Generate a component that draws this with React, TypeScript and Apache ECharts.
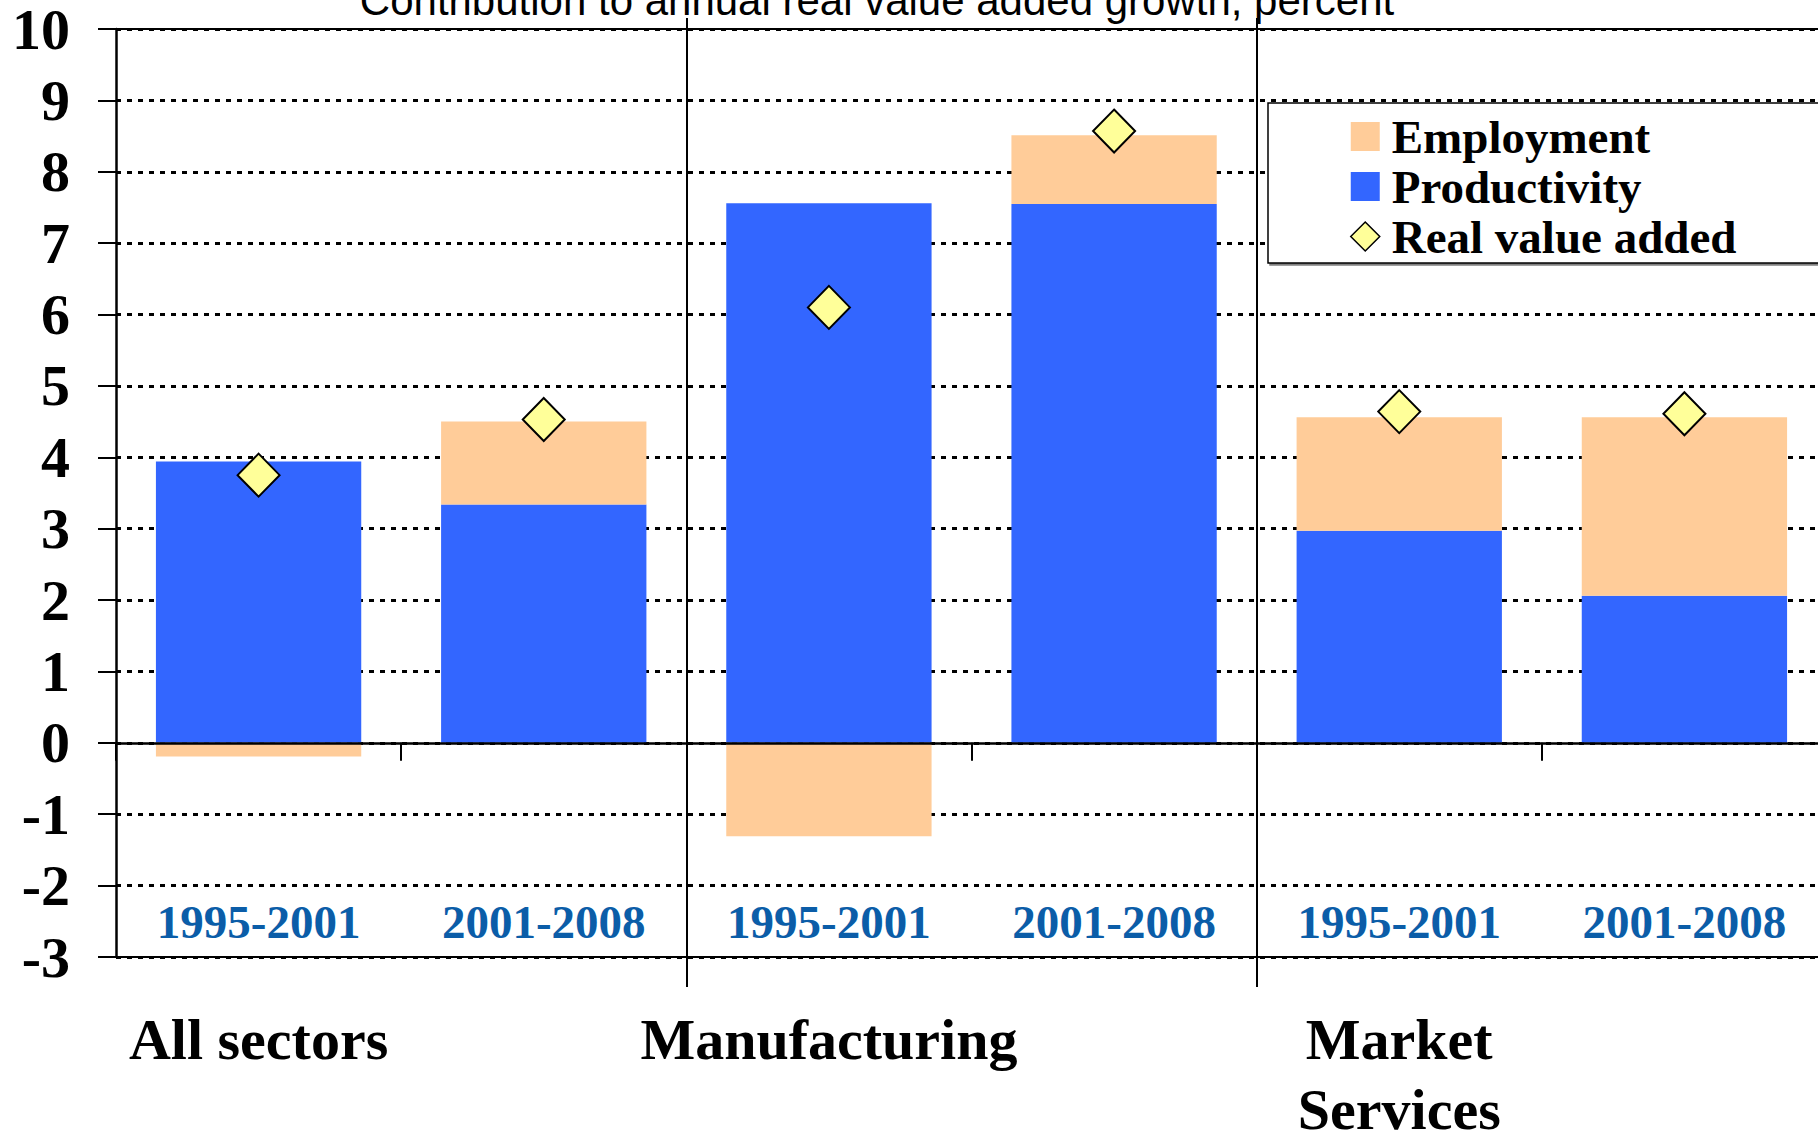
import React, { useEffect, useRef } from "react";
import * as echarts from "echarts";

const periods = ["1995-2001", "2001-2008", "1995-2001", "2001-2008", "1995-2001", "2001-2008"];
const groupLabels = ["All sectors", "", "Manufacturing", "", "Market\nServices", ""];
const groups = ["All sectors", "Manufacturing", "Market Services"];
const productivity = [3.94, 3.34, 7.56, 7.55, 2.97, 2.06];
const employment = [-0.19, 1.16, -1.31, 0.96, 1.59, 2.5];
const realValueAdded = [3.75, 4.53, 6.1, 8.57, 4.64, 4.61];
const titleText = "Contribution to annual real value added growth, percent";

const SERIF = "'Liberation Serif', 'Times New Roman', serif";
const SANS = "'Liberation Sans', Arial, sans-serif";

export default function App() {
  const ref = useRef<HTMLDivElement>(null);
  useEffect(() => {
    document.body.style.margin = "0";
    const chart = echarts.init(ref.current!, null, { renderer: "svg" });
    const skipFirst = (i: number) => i !== 0;
    chart.setOption({
      animation: false,
      backgroundColor: "#ffffff",
      grid: {
        left: 116,
        right: -9,
        top: 29,
        bottom: 178,
        containLabel: false,
        outerBoundsMode: "none",
      },
      graphic: [
        {
          type: "text",
          x: 877,
          y: 0,
          style: {
            text: titleText,
            font: `42px ${SANS}`,
            fill: "#000",
            align: "center",
            verticalAlign: "middle",
          },
        },
      ],
      legend: {
        orient: "vertical",
        left: 1268,
        top: 103,
        padding: [10, 200, 3, 82],
        itemWidth: 29,
        itemHeight: 29,
        itemGap: 3,
        backgroundColor: "#ffffff",
        borderColor: "#000",
        borderWidth: 1.5,
        shadowColor: "rgba(0,0,0,0.5)",
        shadowOffsetX: 2,
        shadowOffsetY: 2,
        shadowBlur: 0,
        selectedMode: false,
        textStyle: {
          fontFamily: SERIF,
          fontWeight: "bold",
          fontSize: 47,
          color: "#000",
          padding: [0, 0, 0, 7],
        },
        data: [
          { name: "Employment", icon: "rect" },
          { name: "Productivity", icon: "rect" },
          {
            name: "Real value added",
            icon: "diamond",
            itemStyle: { color: "#FFFF99", borderColor: "#000", borderWidth: 1.5 },
          },
        ],
      },
      xAxis: [
        {
          type: "category",
          data: periods,
          position: "bottom",
          z: 5,
          axisLine: { show: true, onZero: true, lineStyle: { color: "#000", width: 2.5 } },
          axisTick: { show: true, length: 18, interval: 0, lineStyle: { color: "#000", width: 2 } },
          axisLabel: { show: false },
          splitLine: { show: false },
        },
        {
          type: "category",
          data: periods,
          position: "bottom",
          z: 5,
          axisLine: { show: true, onZero: false, lineStyle: { color: "#000", width: 2 } },
          axisTick: { show: false },
          axisLabel: {
            show: true,
            inside: true,
            interval: 0,
            margin: 12,
            color: "#0B5DA8",
            fontFamily: SERIF,
            fontWeight: "bold",
            fontSize: 47,
            lineHeight: 47,
          },
          splitLine: { show: false },
        },
        {
          type: "category",
          data: groupLabels,
          position: "bottom",
          axisLine: { show: false, onZero: false },
          axisTick: { show: false },
          axisLabel: {
            show: true,
            interval: 0,
            margin: 47,
            color: "#000",
            fontFamily: SERIF,
            fontWeight: "bold",
            fontSize: 58,
            lineHeight: 70,
          },
          splitLine: { show: false },
        },
        {
          type: "category",
          data: groups,
          position: "bottom",
          z: 5,
          axisLine: { show: false, onZero: false },
          axisTick: { show: true, length: 30, interval: skipFirst, lineStyle: { color: "#000", width: 2 } },
          axisLabel: { show: false },
          splitLine: { show: true, interval: skipFirst, lineStyle: { color: "#000", width: 2, type: "solid" } },
        },
        {
          type: "category",
          data: groups,
          position: "top",
          z: 5,
          axisLine: { show: true, onZero: false, lineStyle: { color: "#000", width: 2 } },
          axisTick: { show: true, length: 11, interval: skipFirst, lineStyle: { color: "#000", width: 2 } },
          axisLabel: { show: false },
          splitLine: { show: false },
        },
      ],
      yAxis: {
        type: "value",
        min: -3,
        max: 10,
        interval: 1,
        axisLine: { show: true, lineStyle: { color: "#000", width: 2.5 } },
        axisTick: { show: true, length: 18, lineStyle: { color: "#000", width: 2 } },
        axisLabel: {
          color: "#000",
          fontFamily: SERIF,
          fontWeight: "bold",
          fontSize: 58,
          lineHeight: 40,
          margin: 46,
        },
        splitLine: { show: true, lineStyle: { color: "#000", width: 3, type: [5, 6] } },
      },
      series: [
        {
          name: "Productivity",
          type: "bar",
          stack: "total",
          xAxisIndex: 0,
          barCategoryGap: "28%",
          itemStyle: { color: "#3366FF" },
          data: productivity,
        },
        {
          name: "Employment",
          type: "bar",
          stack: "total",
          xAxisIndex: 0,
          barCategoryGap: "28%",
          itemStyle: { color: "#FFCC99" },
          data: employment,
        },
        {
          name: "Real value added",
          type: "scatter",
          xAxisIndex: 0,
          symbol: "diamond",
          symbolSize: [42, 43],
          z: 10,
          itemStyle: { color: "#FFFF99", borderColor: "#000", borderWidth: 2, opacity: 1 },
          data: realValueAdded,
        },
      ],
    });
    return () => chart.dispose();
  }, []);
  return (
    <div
      ref={ref}
      style={{ position: "fixed", left: 0, top: 0, width: 1818, height: 1135, background: "#fff" }}
    />
  );
}
